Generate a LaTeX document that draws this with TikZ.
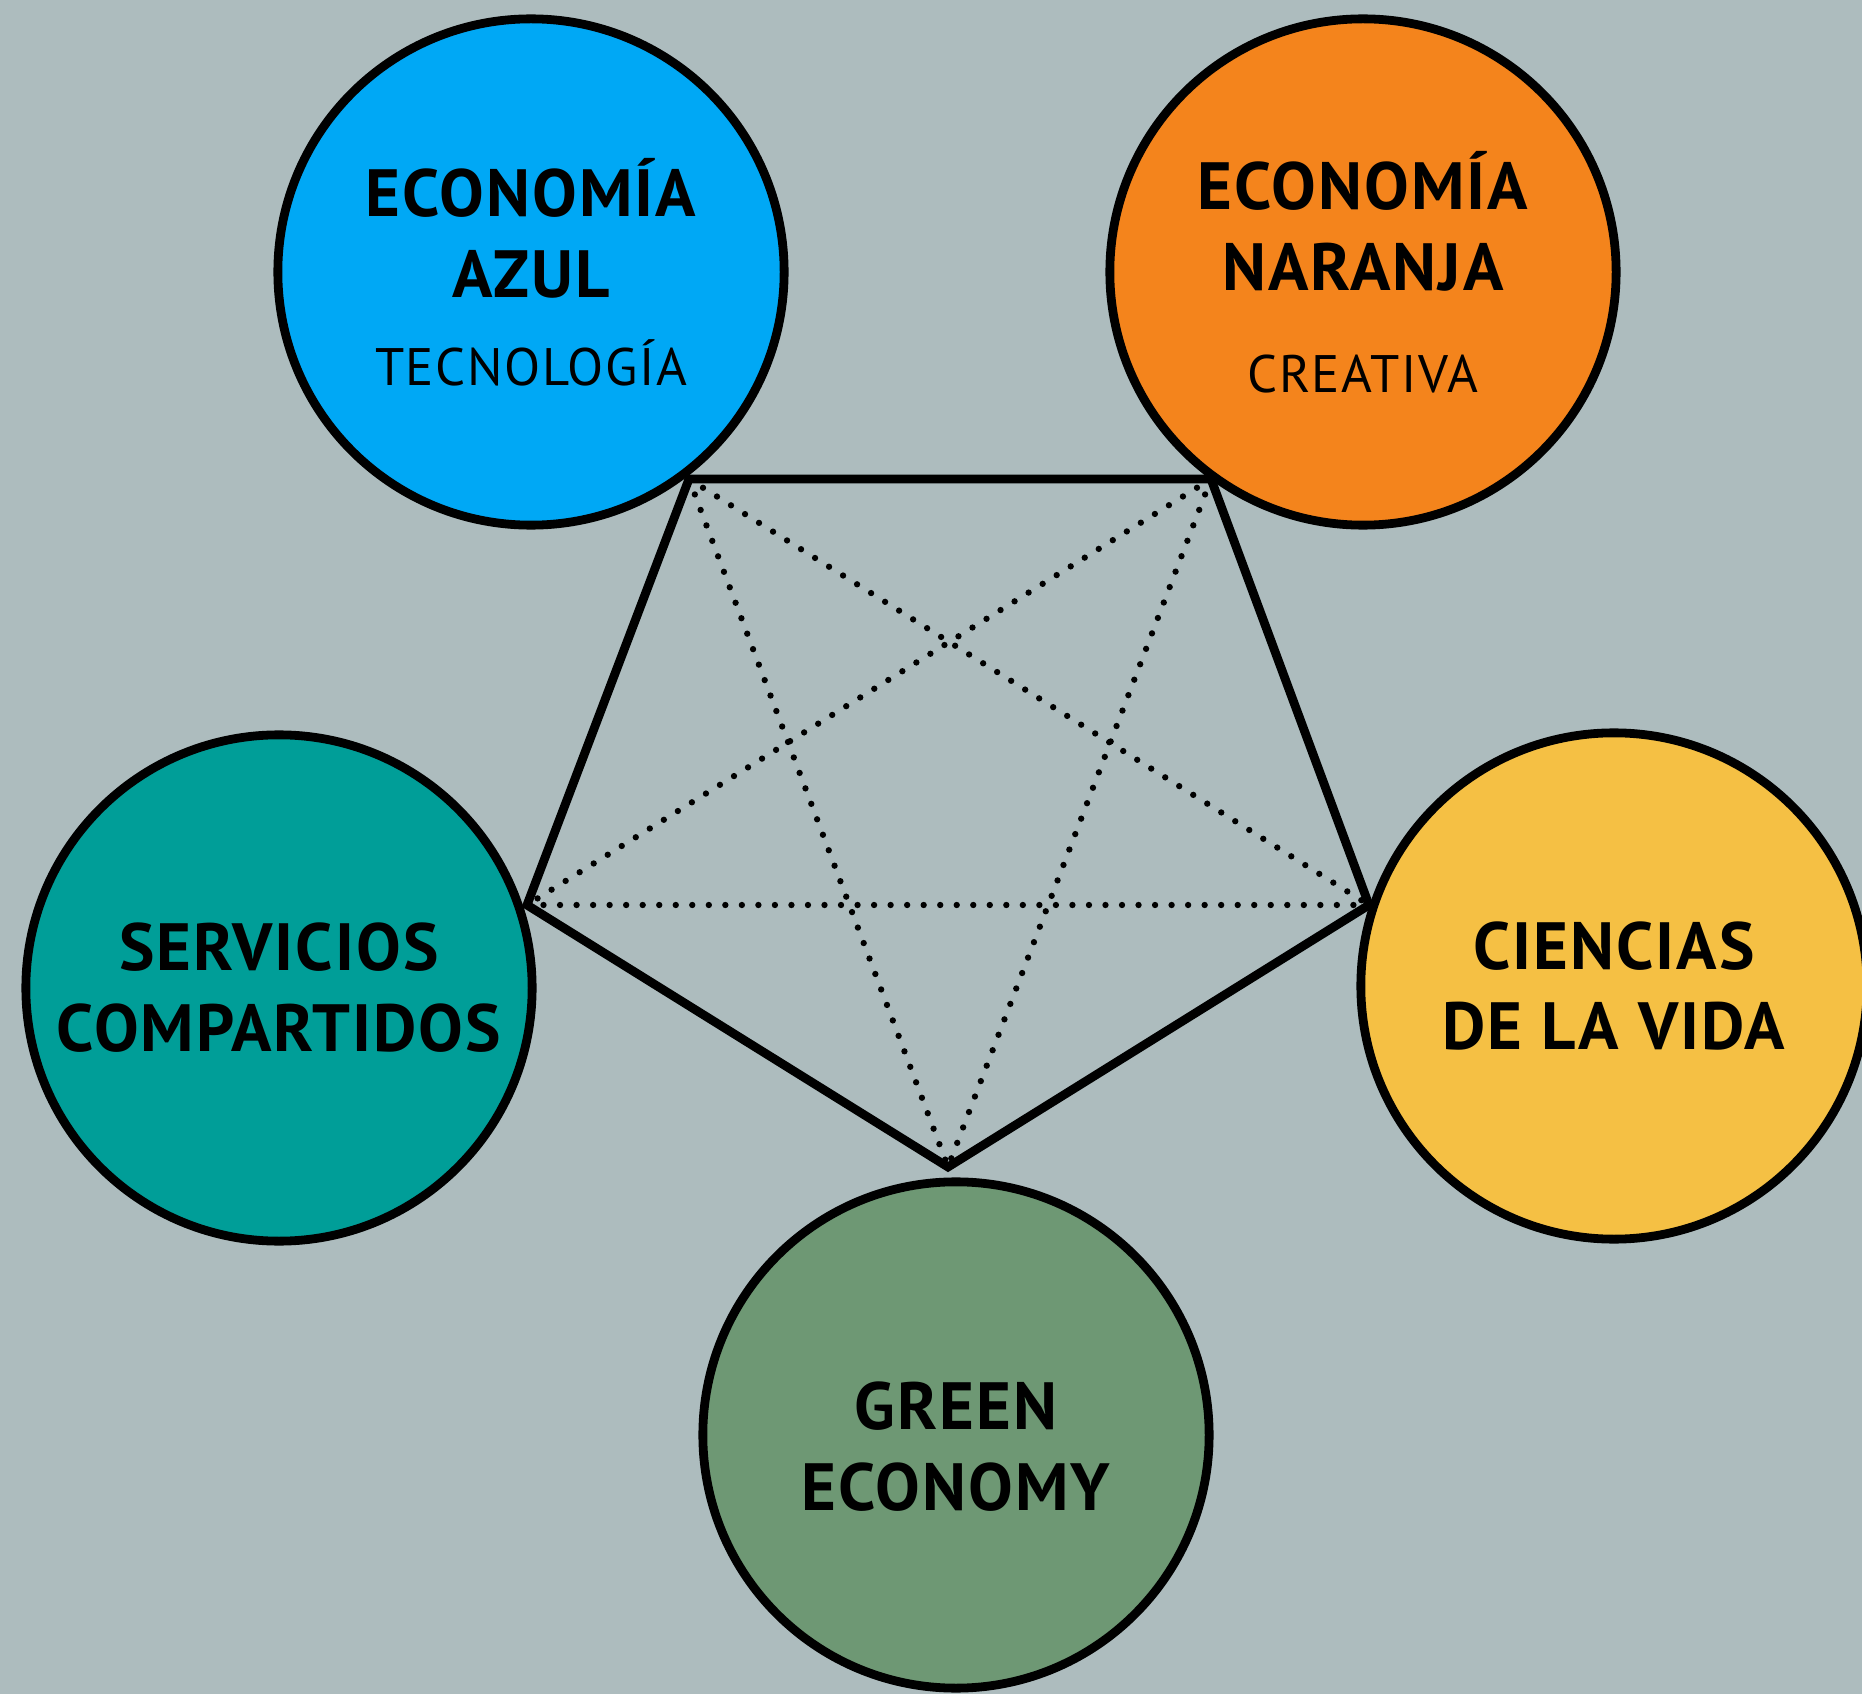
\documentclass[tikz,border=0pt]{standalone}
\usepackage{fontspec}
\setmainfont{PT Sans}[LetterSpace=3]
\usetikzlibrary{positioning}

\definecolor{bggray}{RGB}{173,188,190}
\definecolor{azulblue}{RGB}{0,168,245}
\definecolor{naranjaorange}{RGB}{244,132,28}
\definecolor{tealserv}{RGB}{0,158,152}
\definecolor{vidayellow}{RGB}{245,192,68}
\definecolor{greeneco}{RGB}{110,152,116}

\begin{document}
\begin{tikzpicture}[
            x=0.01cm, y=-0.01cm,
            econode/.style={circle, draw=black, line width=2.5pt, minimum size=5.06cm, inner sep=0pt, align=center, font=\bfseries\fontsize{19}{23}\selectfont},
            side/.style={line width=2.5pt, line join=miter},
            link/.style={line width=1.8pt, line cap=round, dash pattern=on 0pt off 4.7pt},
            ]
            \useasboundingbox (0,0) rectangle (1862,1694);
            \clip (0,0) rectangle (1862,1694);
            \fill[bggray] (0,0) rectangle (1862,1694);

            % corners of the pentagon
            \coordinate (pa) at (689,479);
            \coordinate (pb) at (1211,479);
            \coordinate (pc) at (1369,905);
            \coordinate (pd) at (948,1167);
            \coordinate (pe) at (527,905);

            \node[econode, fill=azulblue]     (azul)  at (531,272)  {ECONOMÍA\\AZUL\\[2pt]{\mdseries\fontsize{15}{18}\selectfont TECNOLOGÍA}};
            \node[econode, fill=naranjaorange] (naranja) at (1363,272) {ECONOMÍA\\NARANJA\\[6pt]{\mdseries\fontsize{15}{18}\selectfont CREATIVA}};
            \node[econode, fill=tealserv]     (serv)  at (279,988)  {SERVICIOS\\COMPARTIDOS};
            \node[econode, fill=vidayellow]   (vida)  at (1614,986) {CIENCIAS\\DE LA VIDA};
            \node[econode, fill=greeneco]     (green) at (956,1435) {\rule{0pt}{20pt}GREEN\\ECONOMY};

            \draw[side] (pa) -- (pb) -- (pc) -- (pd) -- (pe) -- cycle;

            \draw[link] (pa) -- (pc);
            \draw[link] (pa) -- (pd);
            \draw[link] (pb) -- (pe);
            \draw[link] (pb) -- (pd);
            \draw[link] (pe) -- (pc);
        \end{tikzpicture}
\end{document}
